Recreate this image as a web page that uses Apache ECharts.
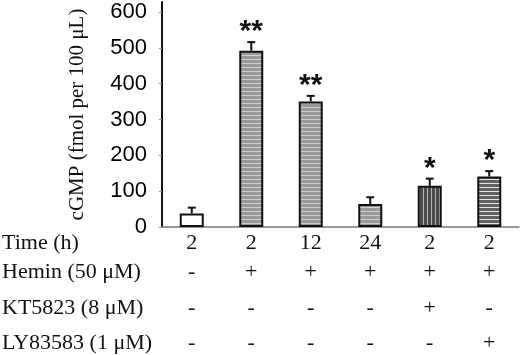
<!DOCTYPE html>
<html>
<head>
<meta charset="utf-8">
<script src="https://cdn.jsdelivr.net/npm/echarts@6/dist/echarts.min.js"></script>
<style>
  html, body { margin: 0; padding: 0; background: #fff; }
  #chart { width: 520px; height: 355px; }
</style>
</head>
<body>
<div id="chart"></div>
<script>
// table rows under the bars
const rowNames = ['Time (h)', 'Hemin (50 μM)', 'KT5823 (8 μM)', 'LY83583 (1 μM)'];
const timeRow = ['2', '2', '12', '24', '2', '2'];
const heminRow = ['-', '+', '+', '+', '+', '+'];
const ktRow = ['-', '-', '-', '-', '+', '-'];
const lyRow = ['-', '-', '-', '-', '-', '+'];

// cGMP values and upper error
const cgmp = [38, 492, 350, 64, 115, 141];
const errors = [16, 24, 16, 19, 20, 15];
const stars = ['', '**', '**', '', '*', '*'];

// fill style for each bar: 0 white, 1 light horiz stripes, 2 dark vertical, 3 dark horiz
const fillKind = [0, 1, 1, 1, 2, 3];

const serif = '"Liberation Serif", "DejaVu Serif", serif';
const sans = '"Liberation Sans", Arial, sans-serif';

function makePattern(w, h, draw) {
  const c = document.createElement('canvas');
  c.width = w;
  c.height = h;
  draw(c.getContext('2d'));
  return { image: c, repeat: 'repeat' };
}

const fills = [
  '#ffffff',
  makePattern(4, 4, (ctx) => {
    ctx.fillStyle = '#9a9a9a';
    ctx.fillRect(0, 0, 4, 4);
    ctx.fillStyle = '#cfcfcf';
    ctx.fillRect(0, 3, 4, 1);
  }),
  makePattern(4, 4, (ctx) => {
    ctx.fillStyle = '#4c4c4c';
    ctx.fillRect(0, 0, 4, 4);
    ctx.fillStyle = '#b0b0b0';
    ctx.fillRect(3, 0, 1, 4);
  }),
  makePattern(4, 4, (ctx) => {
    ctx.fillStyle = '#626262';
    ctx.fillRect(0, 0, 4, 4);
    ctx.fillStyle = '#e4e4e4';
    ctx.fillRect(0, 3, 4, 1);
  }),
];

const myChart = echarts.init(document.getElementById('chart'));

const rowAxis = (data, offset, showLine) => ({
  type: 'category',
  data: data,
  position: 'bottom',
  offset: offset,
  axisLine: { show: showLine, lineStyle: { color: '#777', width: 1.5 } },
  axisTick: { show: false },
  axisLabel: {
    margin: 5,
    interval: 0,
    fontFamily: serif,
    fontSize: 22,
    color: '#111',
  },
});

const option = {
  animation: false,
  backgroundColor: '#fff',
  grid: { left: 162, right: 1, top: 2, bottom: 128 },
  xAxis: [
    rowAxis(timeRow, 0, true),
    rowAxis(heminRow, 29, false),
    rowAxis(ktRow, 65, false),
    rowAxis(lyRow, 100, false),
  ],
  yAxis: {
    type: 'value',
    min: 0,
    max: 628,
    interval: 100,
    name: 'cGMP (fmol per 100 μL)',
    nameLocation: 'middle',
    nameGap: 74,
    nameTextStyle: { fontFamily: serif, fontSize: 21, color: '#111' },
    axisLine: { show: true, lineStyle: { color: '#111', width: 2 } },
    axisTick: { show: true, length: 3, lineStyle: { color: '#999' } },
    splitLine: { show: false },
    axisLabel: {
      showMaxLabel: false,
      margin: 15,
      fontFamily: sans,
      fontSize: 22,
      color: '#000',
    },
  },
  graphic: rowNames.map((name, i) => ({
    type: 'text',
    x: 2,
    y: [243, 272, 308, 343][i],
    style: {
      text: name,
      font: '22px ' + serif,
      fill: '#111',
      verticalAlign: 'middle',
    },
  })),
  series: [
    {
      type: 'bar',
      barWidth: 24,
      data: cgmp.map((v, i) => ({
        value: v,
        itemStyle: { color: fills[fillKind[i]] },
      })),
      itemStyle: { borderColor: '#111', borderWidth: 2 },
    },
    {
      type: 'custom',
      z: 3,
      data: cgmp.map((v, i) => [i, v, errors[i]]),
      renderItem: (params, api) => {
        const i = api.value(0);
        const v = api.value(1);
        const e = api.value(2);
        const base = api.coord([i, v]);
        const top = api.coord([i, v + e]);
        const children = [
          {
            type: 'line',
            shape: { x1: base[0], y1: base[1], x2: top[0], y2: top[1] },
            style: { stroke: '#111', lineWidth: 2 },
          },
          {
            type: 'line',
            shape: { x1: top[0] - 4, y1: top[1], x2: top[0] + 4, y2: top[1] },
            style: { stroke: '#111', lineWidth: 2 },
          },
        ];
        const s = stars[params.dataIndex];
        if (s) {
          children.push({
            type: 'text',
            x: top[0],
            y: top[1] - 10,
            style: {
              text: s,
              font: 'bold 30px ' + sans,
              fill: '#111',
              align: 'center',
              verticalAlign: 'middle',
            },
          });
        }
        return { type: 'group', children: children };
      },
    },
  ],
};

myChart.setOption(option);
</script>
</body>
</html>
